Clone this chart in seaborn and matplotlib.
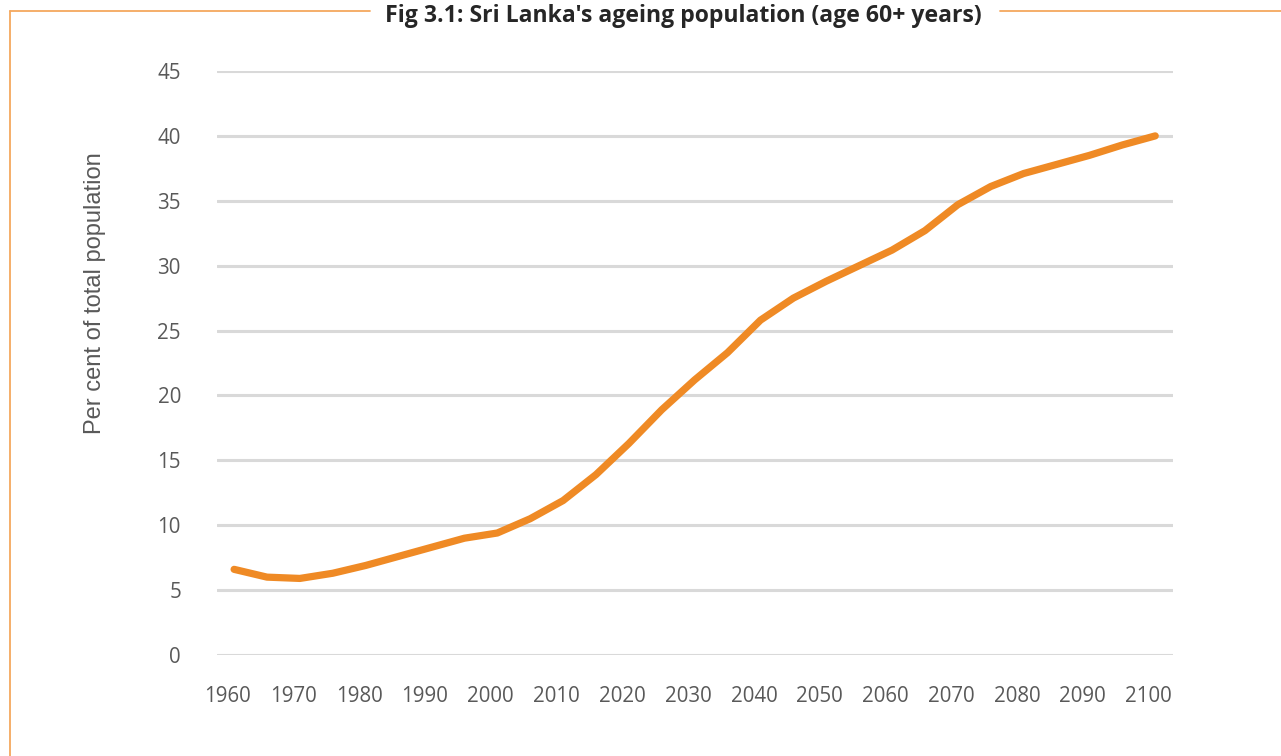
import matplotlib
matplotlib.use("Agg")
import matplotlib.pyplot as plt
import seaborn as sns
import pandas as pd
from matplotlib.lines import Line2D

# Share of population aged 60+ (per cent), 5-year steps
years = [1961, 1966, 1971, 1976, 1981, 1986, 1991, 1996, 2001, 2006,
         2011, 2016, 2021, 2026, 2031, 2036, 2041, 2046, 2051, 2056,
         2061, 2066, 2071, 2076, 2081, 2086, 2091, 2096, 2101]
share_60plus = [6.6, 6.0, 5.9, 6.3, 6.9, 7.6, 8.3, 9.0, 9.4, 10.5,
                11.9, 13.9, 16.3, 18.9, 21.2, 23.3, 25.8, 27.5, 28.8, 30.0,
                31.2, 32.7, 34.7, 36.1, 37.1, 37.8, 38.5, 39.3, 40.0]
year_ticks = list(range(1960, 2101, 10))
pct_ticks = list(range(0, 46, 5))

df = pd.DataFrame({"year": years, "share": share_60plus})

sns.set_theme(style="white")
plt.rcParams["font.family"] = ["Open Sans", "DejaVu Sans"]

fig = plt.figure(figsize=(12.81, 7.56), dpi=100)
ax = fig.add_axes([217 / 1281, 1 - 655 / 756, (1173 - 217) / 1281, (655 - 71) / 756])

sns.lineplot(data=df, x="year", y="share", ax=ax, color="#EF8A25",
             linewidth=5.2, solid_capstyle="round", solid_joinstyle="round", zorder=3)

ax.set_xlim(1958.4, 2103.7)
ax.set_ylim(0, 45)
ax.set_xticks(year_ticks)
ax.set_yticks(pct_ticks)
ax.set_xticklabels([str(y) for y in year_ticks])
for y in pct_ticks:
    ax.axhline(y, color="#D9D9D9", linewidth=2.2, zorder=1)

ax.tick_params(axis="both", length=0, labelsize=14.8, labelcolor="#595959")
ax.tick_params(axis="x", pad=22)
ax.tick_params(axis="y", pad=26)
for s in ax.spines.values():
    s.set_visible(False)

ax.set_xlabel("")
ax.set_ylabel("Per cent of total population", fontsize=17, color="#595959",
              family=["Liberation Sans", "DejaVu Sans"])
ax.yaxis.set_label_coords(-0.116, 0.62)

# frame around the figure with the title set into the top edge
frame_col = "#F5A85E"
fig.add_artist(Line2D([9.5 / 1281, 9.5 / 1281], [0, 1 - 11 / 756], color=frame_col, linewidth=1.3))
fig.add_artist(Line2D([9.5 / 1281, 370 / 1281], [1 - 11 / 756, 1 - 11 / 756], color=frame_col, linewidth=1.3))
fig.add_artist(Line2D([1000 / 1281, 1], [1 - 11 / 756, 1 - 11 / 756], color=frame_col, linewidth=1.3))
fig.text(683 / 1281, 1 - 16 / 756, "Fig 3.1: Sri Lanka's ageing population (age 60+ years)",
         ha="center", va="center", fontsize=16.6, fontweight="bold", color="#262626")

fig.savefig("out.png", dpi=100)
